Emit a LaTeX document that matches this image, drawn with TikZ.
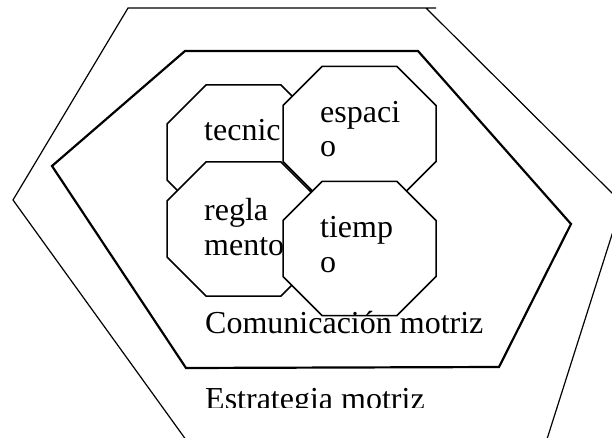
\documentclass[tikz,border=0pt]{standalone}
\usepackage{fontspec}
\setmainfont{Liberation Serif}
\tikzstyle{octa}=[draw,fill=white,line width=1.5pt,line join=miter]
\tikzstyle{txt}=[font=\fontsize{32}{34.5}\selectfont,inner sep=0pt,align=left,anchor=base west]
\tikzstyle{hexa}=[draw,line join=miter]
\begin{document}
\begin{tikzpicture}[x=1pt,y=-1pt]

  \clip (0,0) rectangle (612,438);

  % outer hexagon
  \draw[hexa, line width=1.2pt] (436,8) -- (128,8) -- (13,200) -- (215,480) -- (534,480) -- (622,203) -- (426,8);
  % inner hexagon
  \draw[hexa, line width=2.2pt] (185,51) -- (418,51) -- (571,224) -- (499,367) -- (186,368) -- (52,166) -- cycle;

  % octagons, text base on the last line
  \foreach \x/\y/\dy/\name/\label in {243.5/152/-11/tec/{tecnic}, 359.5/133.5/23.5/esp/{espaci\\o}, 243.5/229/26/reg/{regla\\mento}, 359.5/248.5/23.5/tie/{tiemp\\o}}
  {
     \coordinate (\name) at (\x,\y);
     \draw[octa] (\name) ++(-76.5,-28) -- ++(39,-39) -- ++(75,0) -- ++(39,39) -- ++(0,56) -- ++(-39,39) -- ++(-75,0) -- ++(-39,-39) -- cycle;
     \node[txt] (\name t) at (\x-39.5,\y+\dy) {\label};
  }

  \node[txt] (com) at (205,333.5) {Comunicación motriz};

  \begin{scope}
    \clip (0,0) rectangle (612,407.5);
    \node[txt] (est) at (205,409) {Estrategia motriz};
  \end{scope}

\end{tikzpicture}
\end{document}
